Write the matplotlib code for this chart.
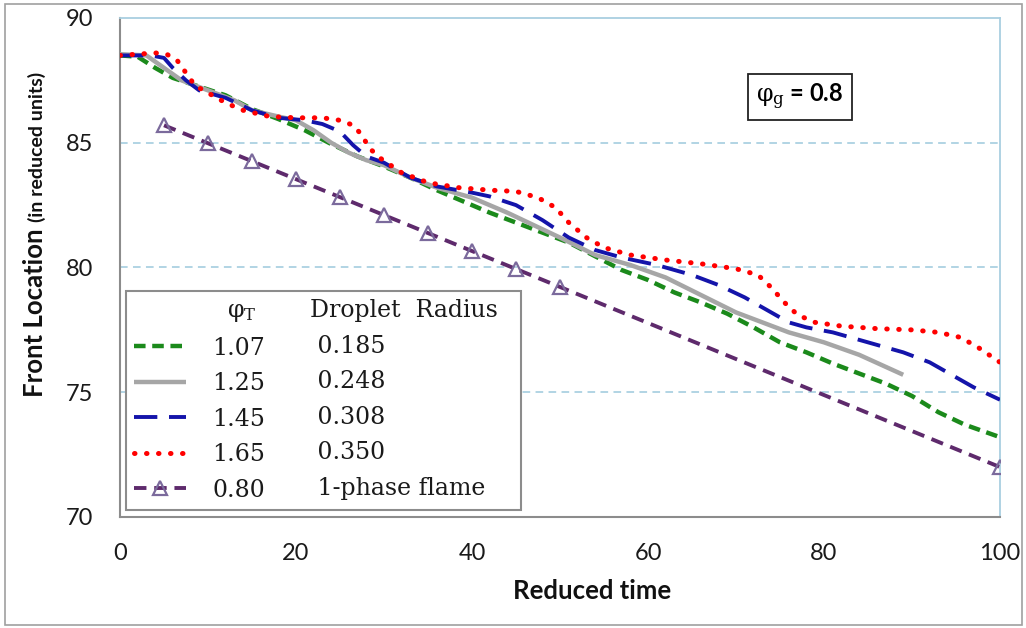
import matplotlib
matplotlib.use("Agg")
import matplotlib.pyplot as plt
from matplotlib.lines import Line2D
from matplotlib.patches import Rectangle

plt.rcParams['mathtext.fontset'] = 'dejavuserif'

# ---------------- data ----------------
x_107 = [0, 2, 4, 6, 9, 12, 15, 18, 21, 24, 27, 30, 33, 36, 39, 42, 45, 48, 51, 54,
         57, 60, 63, 66, 69, 72, 75, 78, 81, 84, 87, 90, 93, 96, 100]
y_107 = [88.5, 88.45, 88.0, 87.6, 87.25, 86.9, 86.35, 85.95, 85.5, 84.95, 84.45, 84.05,
         83.6, 83.1, 82.65, 82.2, 81.8, 81.4, 81.0, 80.45, 79.9, 79.5, 79.0, 78.6, 78.15,
         77.6, 77.0, 76.6, 76.15, 75.75, 75.35, 74.85, 74.2, 73.7, 73.2]

x_125 = [0, 3, 5, 7, 10, 13, 15, 18, 20, 22, 24, 26, 28, 30, 33, 36, 40, 44, 47, 50,
         54, 58, 62, 66, 70, 73, 76, 80, 84, 89]
y_125 = [88.55, 88.5, 88.0, 87.5, 87.1, 86.7, 86.3, 86.05, 85.9, 85.5, 85.0, 84.6, 84.3,
         84.1, 83.6, 83.2, 82.8, 82.2, 81.7, 81.2, 80.5, 80.1, 79.6, 78.9, 78.2, 77.8,
         77.4, 77.0, 76.5, 75.7]

x_145 = [0, 3.5, 5, 6, 7.5, 9, 12, 15, 18, 21, 23, 25, 26.5, 28, 30, 33, 36, 40, 42, 45,
         48, 51, 54, 57, 61, 65, 68, 71, 74, 76, 78, 81, 85, 89, 92, 95, 97, 100]
y_145 = [88.5, 88.5, 88.4, 88.0, 87.5, 87.1, 86.8, 86.3, 86.0, 85.9, 85.75, 85.45, 84.9,
         84.45, 84.2, 83.6, 83.25, 83.0, 82.85, 82.5, 81.9, 81.2, 80.7, 80.4, 80.1, 79.7,
         79.3, 78.8, 78.2, 77.8, 77.6, 77.4, 77.0, 76.6, 76.2, 75.6, 75.2, 74.7]

x_165 = [0, 2, 4, 5.3, 6.5, 7.5, 8.5, 10, 12, 14, 17, 20, 23, 25, 26.5, 27.5, 28.3, 29.5,
         32, 35, 38.5, 42, 45, 47.5, 49.5, 51, 53, 55, 58, 62, 66, 70, 72.5, 74, 75.5,
         77, 79, 82, 86, 90, 93, 95.5, 97.5, 100]
y_165 = [88.5, 88.55, 88.6, 88.55, 88.3, 87.8, 87.3, 87.0, 86.6, 86.3, 86.05, 86.0, 86.0,
         85.9, 85.7, 85.3, 84.8, 84.4, 83.8, 83.4, 83.2, 83.1, 83.05, 82.8, 82.4, 81.8,
         81.2, 80.8, 80.5, 80.3, 80.15, 79.95, 79.7, 79.2, 78.6, 78.1, 77.8, 77.65, 77.55,
         77.5, 77.4, 77.2, 76.8, 76.2]

x_1ph = [5, 10, 15, 20, 25, 30, 35, 40, 45, 50, 100]
y_1ph = [85.7, 84.98, 84.26, 83.54, 82.82, 82.1, 81.38, 80.66, 79.94, 79.22, 72.0]

phi_T = ["1.07", "1.25", "1.45", "1.65", "0.80"]
radius = ["0.185", "0.248", "0.308", "0.350", "1-phase flame"]
x_ticks = [0, 20, 40, 60, 80, 100]
y_ticks = [70, 75, 80, 85, 90]

# ---------------- figure ----------------
W, H = 1026, 628
fig = plt.figure(figsize=(W / 100, H / 100), dpi=100)
ax = fig.add_axes([120/W, 1 - 517/H, 880/W, 499/H])

fig.patches.append(Rectangle((5/W, 3/H), 1017/W, 621/H, transform=fig.transFigure,
                             fill=False, edgecolor='#a0a0a0', linewidth=1.2))

for yv in [75, 80, 85]:
    ax.axhline(yv, color='#9cc9dc', linewidth=1.1, linestyle=(0, (5, 3.5)), zorder=1)

h1, = ax.plot(x_107, y_107, color='#1b8a1b', linewidth=3.2, linestyle=(0, (2.6, 1.5)), zorder=3)
h2, = ax.plot(x_125, y_125, color='#a6a6a6', linewidth=3.2, solid_capstyle='butt', zorder=3)
h3, = ax.plot(x_145, y_145, color='#1414aa', linewidth=2.8, linestyle=(0, (6, 3)), zorder=4)
h4, = ax.plot(x_165, y_165, color='#ff0000', linewidth=3.6, linestyle=(0, (0.1, 2.3)),
              dash_capstyle='round', zorder=5)
h5, = ax.plot(x_1ph, y_1ph, color='#5e2a6c', linewidth=2.8, linestyle=(0, (3.2, 2.0)),
              marker='^', markersize=10.5, markerfacecolor='none', markeredgecolor='#7b6a9c',
              markeredgewidth=1.6, zorder=4)

ax.set_xlim(0, 100)
ax.set_ylim(70, 90)
ax.set_xticks(x_ticks)
ax.set_yticks(y_ticks)
ax.tick_params(length=0, labelsize=17, colors='#1a1a1a', pad=19)
for lab in ax.get_xticklabels() + ax.get_yticklabels():
    lab.set_fontfamily('Lato')

ax.spines['left'].set_color('#8c8c8c')
ax.spines['bottom'].set_color('#8c8c8c')
ax.spines['left'].set_linewidth(1.5)
ax.spines['bottom'].set_linewidth(1.5)
ax.spines['top'].set_color('#a9cfe0')
ax.spines['right'].set_color('#a9cfe0')
ax.spines['top'].set_linewidth(1.3)
ax.spines['right'].set_linewidth(1.3)

ax.set_xlabel("Reduced time", fontsize=18.5, fontweight='bold', fontfamily='Lato', color='#111111')
ax.xaxis.set_label_coords((592 - 120) / 880, (517 - 591) / 499)
ax.xaxis.label.set_va('center')

t_main = fig.text(43/W, 1 - 397/H, "Front Location", rotation=90, rotation_mode='anchor',
                  ha='left', va='baseline', fontsize=18.5, fontweight='bold', fontfamily='Lato',
                  color='#111111')
fig.canvas.draw()
bb = t_main.get_window_extent(renderer=fig.canvas.get_renderer())
fig.text(43/W, (bb.y1 + 6) / H, "(in reduced units)", rotation=90, rotation_mode='anchor',
         ha='left', va='baseline', fontsize=14, fontweight='bold', fontfamily='Lato',
         color='#111111')

# phi_g box
ax.text((800 - 120) / 880, (517 - 97) / 499, r"$\mathrm{φ_g}$ = 0.8", transform=ax.transAxes,
        ha='center', va='center', fontsize=17, fontweight='bold', fontfamily='Lato',
        bbox=dict(boxstyle='square,pad=0.35', facecolor='white', edgecolor='#222222', linewidth=1.3))

# legend
blank = Line2D([], [], color='none')
handles = [blank, h1, h2, h3, h4, h5] + [blank] * 6
labels = [r"  $\mathrm{φ_T}$"] + phi_T + ["Droplet  Radius  "] + [" " + r for r in radius]
leg = ax.legend(handles, labels, ncol=2, loc='lower left',
                bbox_to_anchor=((126 - 120) / 880, (517 - 510) / 499), borderaxespad=0,
                prop={'family': 'DejaVu Serif', 'size': 17}, frameon=True, fancybox=False,
                edgecolor='#8c8c8c', framealpha=1, handlelength=2.2, handletextpad=1.1,
                columnspacing=-1.4, labelspacing=0.53, borderpad=0.35, numpoints=1)
leg.get_frame().set_linewidth(1.5)
for t in leg.get_texts():
    t.set_color('#1a1a1a')

fig.savefig("out.png", dpi=100)
